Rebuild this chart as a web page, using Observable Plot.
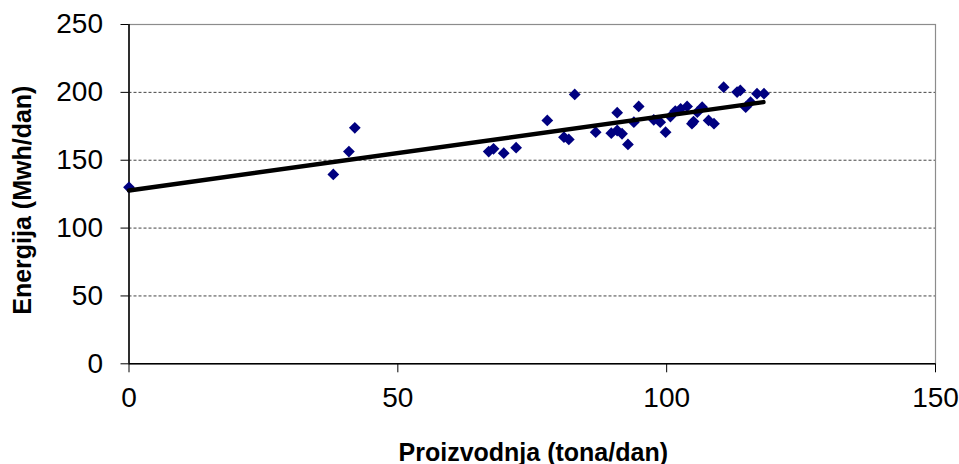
<!DOCTYPE html>
<html>
<head>
<meta charset="utf-8">
<script src="https://cdn.jsdelivr.net/npm/d3@7"></script>
<script src="https://cdn.jsdelivr.net/npm/@observablehq/plot@0.6"></script>
<style>
  html, body { margin: 0; padding: 0; background: #fff; }
</style>
</head>
<body>
<div id="chart"></div>
<script>
// Data
const production = [0, 38.0, 40.9, 42.0, 66.9, 67.8, 69.7, 72.0, 77.8, 80.9, 81.8, 82.9, 86.8, 89.7, 90.8, 90.8, 91.7, 92.8, 93.9, 94.8, 97.6, 98.8, 99.8, 100.7, 101.6, 102.6, 103.8, 104.7, 105.0, 105.7, 106.6, 107.8, 108.8, 110.6, 113.1, 113.7, 114.7, 115.6, 116.8, 118.1];
const energy     = [130, 139.5, 156.4, 173.9, 156.4, 158.4, 155.2, 159.2, 179.3, 167.0, 165.3, 198.5, 170.7, 169.9, 185.0, 171.9, 169.5, 161.6, 178.0, 189.6, 179.8, 178.0, 170.7, 182.2, 186.2, 187.9, 189.6, 176.9, 178.5, 185.4, 189.1, 179.3, 176.9, 203.8, 200.2, 201.4, 189.1, 192.8, 199.0, 199.0];
const trendX = [0, 118];
const trendY = [127.7, 192.8];
const xTicks = [0, 50, 100, 150];
const yTicks = [0, 50, 100, 150, 200, 250];
const gridValues = [50, 100, 150, 200];
const xTitle = "Proizvodnja (tona/dan)";
const yTitle = "Energija (Mwh/dan)";

const points = production.map((p, i) => ({x: p, y: energy[i]}));
const trend = trendX.map((t, i) => ({x: t, y: trendY[i]}));

const chart = Plot.plot({
  width: 959,
  height: 464,
  marginLeft: 128.5,
  marginRight: 24,
  marginTop: 24,
  marginBottom: 100.7,
  style: {fontFamily: "'Liberation Sans', Arial, sans-serif", background: "#fff", color: "#000", overflow: "visible"},
  x: {domain: [0, 150]},
  y: {domain: [0, 250]},
  marks: [
    Plot.ruleY(gridValues, {stroke: "#444", strokeWidth: 1, strokeDasharray: "3,2"}),
    Plot.frame({stroke: "#8c8c8c", strokeWidth: 1.2}),
    Plot.ruleX([0], {stroke: "#000", strokeWidth: 1.5}),
    Plot.ruleY([0], {stroke: "#000", strokeWidth: 1.5}),
    Plot.axisY({ticks: yTicks, tickSize: 8, tickPadding: 18, fontSize: 28, label: null, stroke: "#000"}),
    Plot.axisX({ticks: xTicks, tickSize: 9, tickPadding: 14, fontSize: 28, label: null, stroke: "#000"}),
    Plot.dot(points, {x: "x", y: "y", symbol: "diamond2", r: 5.3, fill: "#000080", stroke: "none"}),
    Plot.line(trend, {x: "x", y: "y", stroke: "#000", strokeWidth: 4.5}),
    Plot.text([xTitle], {text: d => d, frameAnchor: "bottom", lineAnchor: "bottom", textAnchor: "middle", dy: 97, dx: 1, fontSize: 25, fontWeight: "bold"}),
    Plot.text([yTitle], {text: d => d, frameAnchor: "left", lineAnchor: "bottom", textAnchor: "middle", rotate: -90, dx: -98.5, dy: 6, fontSize: 25, fontWeight: "bold"})
  ]
});
document.getElementById("chart").appendChild(chart);
</script>
</body>
</html>
